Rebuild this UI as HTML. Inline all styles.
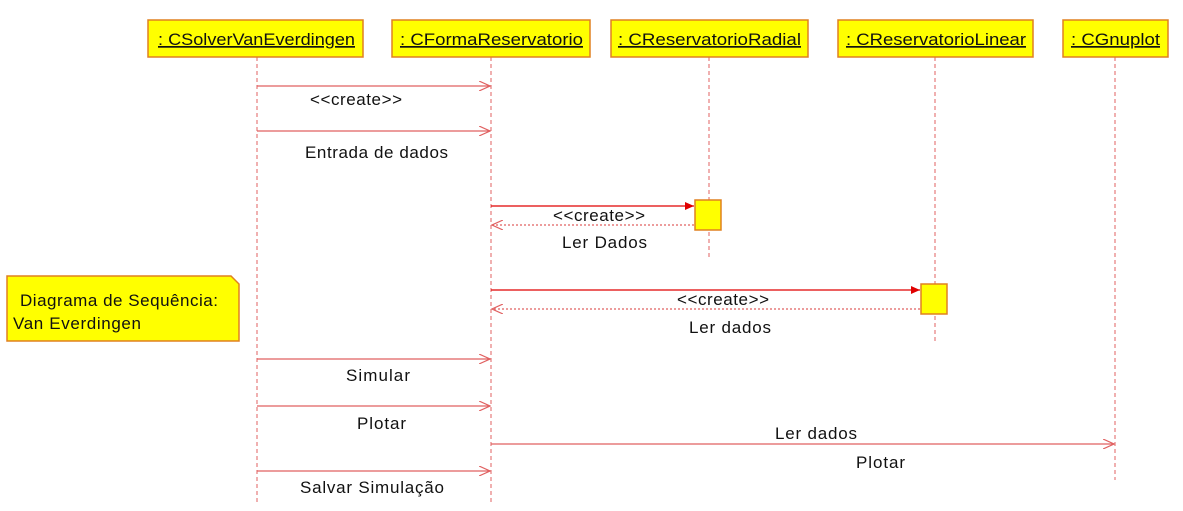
<!DOCTYPE html>
<html><head><style>
html,body{margin:0;padding:0;background:#fff;}
svg text{font-family:"Liberation Sans",sans-serif;font-size:17px;fill:#111;}
</style></head><body>
<svg width="1183" height="506" xmlns="http://www.w3.org/2000/svg">
<defs>
<marker id="open" markerWidth="12" markerHeight="10" refX="11" refY="5" orient="auto" markerUnits="userSpaceOnUse"><path d="M0,0 L11,5 L0,10" fill="none" stroke="#e06060" stroke-width="1.2"/></marker>
<marker id="fill" markerWidth="10" markerHeight="10" refX="9" refY="5" orient="auto" markerUnits="userSpaceOnUse"><path d="M0,1 L9,5 L0,9 Z" fill="#e00000"/></marker>
</defs>
<g stroke="#e06060" stroke-width="1" stroke-dasharray="4,3">
<line x1="257" y1="57" x2="257" y2="505"/>
<line x1="491" y1="57" x2="491" y2="505"/>
<line x1="709" y1="57" x2="709" y2="260"/>
<line x1="935" y1="57" x2="935" y2="342"/>
<line x1="1115" y1="57" x2="1115" y2="480"/>
</g>
<g fill="#ffff00" stroke="#e08020" stroke-width="1.5">
<rect x="148" y="20" width="215" height="37"/>
<rect x="392" y="20" width="198" height="37"/>
<rect x="611" y="20" width="197" height="37"/>
<rect x="838" y="20" width="195" height="37"/>
<rect x="1063" y="20" width="105" height="37"/>
<rect x="695" y="200" width="26" height="30"/>
<rect x="921" y="284" width="26" height="30"/>
<path d="M7,276 L231,276 L239,284 L239,341 L7,341 Z"/>
</g>
<g>
<text x="158" y="45" text-decoration="underline" textLength="197" lengthAdjust="spacingAndGlyphs">: CSolverVanEverdingen</text>
<text x="400" y="45" text-decoration="underline" textLength="183" lengthAdjust="spacingAndGlyphs">: CFormaReservatorio</text>
<text x="618" y="45" text-decoration="underline" textLength="183" lengthAdjust="spacingAndGlyphs">: CReservatorioRadial</text>
<text x="846" y="45" text-decoration="underline" textLength="180" lengthAdjust="spacingAndGlyphs">: CReservatorioLinear</text>
<text x="1071" y="45" text-decoration="underline" textLength="89" lengthAdjust="spacingAndGlyphs">: CGnuplot</text>
</g>
<g stroke="#e06060" stroke-width="1.2" fill="none">
<line x1="257" y1="86" x2="490" y2="86" marker-end="url(#open)"/>
<line x1="257" y1="131" x2="490" y2="131" marker-end="url(#open)"/>
<line x1="491" y1="206" x2="694" y2="206" stroke="#e00000" marker-end="url(#fill)"/>
<line x1="694" y1="225" x2="492" y2="225" stroke-dasharray="2,2" marker-end="url(#open)"/>
<line x1="491" y1="290" x2="920" y2="290" stroke="#e00000" marker-end="url(#fill)"/>
<line x1="920" y1="309" x2="492" y2="309" stroke-dasharray="2,2" marker-end="url(#open)"/>
<line x1="257" y1="359" x2="490" y2="359" marker-end="url(#open)"/>
<line x1="257" y1="406" x2="490" y2="406" marker-end="url(#open)"/>
<line x1="491" y1="444" x2="1114" y2="444" marker-end="url(#open)"/>
<line x1="257" y1="471" x2="490" y2="471" marker-end="url(#open)"/>
</g>
<text x="310" y="105" textLength="92">&lt;&lt;create&gt;&gt;</text>
<text x="305" y="158" textLength="143">Entrada de dados</text>
<text x="553" y="221" textLength="92">&lt;&lt;create&gt;&gt;</text>
<text x="562" y="248" textLength="85">Ler Dados</text>
<text x="677" y="305" textLength="92">&lt;&lt;create&gt;&gt;</text>
<text x="689" y="333" textLength="82">Ler dados</text>
<text x="346" y="381" textLength="64">Simular</text>
<text x="357" y="429" textLength="49">Plotar</text>
<text x="775" y="439" textLength="82">Ler dados</text>
<text x="856" y="468" textLength="49">Plotar</text>
<text x="300" y="493" textLength="144">Salvar Simulação</text>
<text x="20" y="306" textLength="198">Diagrama de Sequência:</text>
<text x="13" y="329" textLength="128">Van Everdingen</text>
</svg>
</body></html>
